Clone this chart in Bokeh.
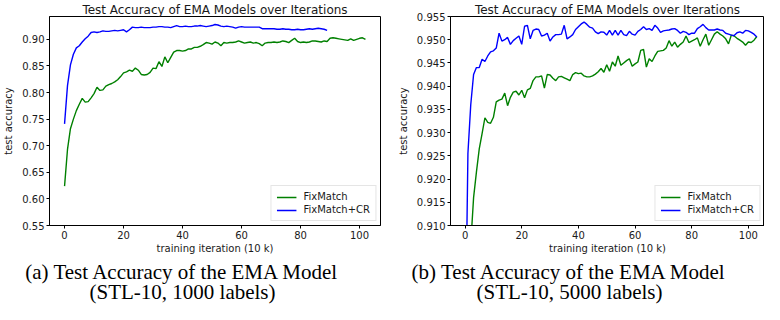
from bokeh.plotting import figure
from bokeh.layouts import row, column
from bokeh.models import Range1d, FixedTicker, NumeralTickFormatter, Label
from bokeh.embed import file_html
from bokeh.resources import INLINE

# ---------------- data ----------------
chart_title = "Test Accuracy of EMA Models over Iterations"
x_label = "training iteration (10 k)"
y_label = "test accuracy"
series_names = ["FixMatch", "FixMatch+CR"]
x_ticks = [0, 20, 40, 60, 80, 100]

# (a) STL-10, 1000 labels
a_fm_x = list(range(0, 103))
a_fm_y = [0.624, 0.693, 0.732, 0.750, 0.766, 0.778, 0.789, 0.782, 0.783, 0.790,
          0.798, 0.810, 0.804, 0.805, 0.812, 0.815, 0.817, 0.820, 0.824, 0.830,
          0.837, 0.839, 0.842, 0.840, 0.846, 0.842, 0.834, 0.833, 0.834, 0.838,
          0.846, 0.845, 0.858, 0.849, 0.867, 0.856, 0.866, 0.876, 0.879, 0.879,
          0.878, 0.879, 0.882, 0.882, 0.885, 0.885, 0.887, 0.890, 0.894, 0.893,
          0.891, 0.895, 0.893, 0.888, 0.894, 0.893, 0.894, 0.894, 0.895, 0.897,
          0.895, 0.893, 0.894, 0.895, 0.893, 0.894, 0.892, 0.888, 0.893, 0.894,
          0.894, 0.895, 0.894, 0.895, 0.897, 0.896, 0.894, 0.898, 0.902, 0.896,
          0.894, 0.895, 0.894, 0.895, 0.897, 0.897, 0.896, 0.895, 0.897, 0.896,
          0.902, 0.903, 0.902, 0.901, 0.900, 0.899, 0.898, 0.901, 0.898, 0.900,
          0.902, 0.903, 0.900]
a_cr_x = list(range(0, 90))
a_cr_y = [0.741, 0.813, 0.852, 0.872, 0.884, 0.888, 0.895, 0.901, 0.906, 0.913,
          0.914, 0.913, 0.914, 0.916, 0.915, 0.915, 0.916, 0.917, 0.916, 0.917,
          0.918, 0.914, 0.918, 0.923, 0.922, 0.922, 0.923, 0.922, 0.922, 0.922,
          0.923, 0.923, 0.924, 0.924, 0.923, 0.923, 0.922, 0.924, 0.926, 0.924,
          0.924, 0.925, 0.924, 0.924, 0.925, 0.925, 0.926, 0.925, 0.924, 0.925,
          0.926, 0.928, 0.927, 0.925, 0.924, 0.925, 0.924, 0.923, 0.921, 0.923,
          0.924, 0.923, 0.923, 0.923, 0.923, 0.923, 0.923, 0.920, 0.920, 0.920,
          0.920, 0.920, 0.919, 0.919, 0.920, 0.919, 0.919, 0.918, 0.918, 0.919,
          0.918, 0.918, 0.919, 0.920, 0.919, 0.920, 0.921, 0.920, 0.919, 0.917]
a_y_ticks = [0.55, 0.60, 0.65, 0.70, 0.75, 0.80, 0.85, 0.90]

# (b) STL-10, 5000 labels
b_fm_x = list(range(0, 104))
b_fm_y = [0.870, 0.890, 0.906, 0.9160, 0.9215, 0.9265, 0.9298, 0.9332, 0.9322, 0.9320,
          0.9333, 0.9366, 0.9370, 0.9372, 0.9385, 0.9358, 0.9376, 0.9387, 0.9389, 0.9381,
          0.9391, 0.9375, 0.9392, 0.9395, 0.9412, 0.9420, 0.9420, 0.9422, 0.9396, 0.9425,
          0.9424, 0.9417, 0.9412, 0.9420, 0.9421, 0.9418, 0.9415, 0.9412, 0.9425, 0.9429,
          0.9427, 0.9428, 0.9422, 0.9420, 0.9420, 0.9422, 0.9426, 0.9431, 0.9438, 0.9430,
          0.9446, 0.9432, 0.9452, 0.9443, 0.9465, 0.9445, 0.9450, 0.9455, 0.9459, 0.9443,
          0.9448, 0.9452, 0.9477, 0.9479, 0.9441, 0.9459, 0.9453, 0.9465, 0.9475, 0.9476,
          0.9477, 0.9482, 0.9498, 0.9486, 0.9495, 0.9484, 0.9490, 0.9495, 0.9508, 0.9494,
          0.9497, 0.9500, 0.9504, 0.9486, 0.9500, 0.9512, 0.9488, 0.9500, 0.9512, 0.9517,
          0.9512, 0.9508, 0.9502, 0.9491, 0.9510, 0.9508, 0.9503, 0.9499, 0.9495, 0.9488,
          0.9495, 0.9494, 0.9499, 0.9507]
b_cr_x = list(range(0, 104))
b_cr_y = [0.880, 0.9255, 0.9360, 0.9425, 0.9440, 0.9440, 0.9458, 0.9453, 0.9465, 0.9474,
          0.9476, 0.9482, 0.9514, 0.9497, 0.9500, 0.9505, 0.9490, 0.9498, 0.9503, 0.9508,
          0.9490, 0.9529, 0.9531, 0.9502, 0.9520, 0.9523, 0.9522, 0.9508, 0.9510, 0.9514,
          0.9497, 0.9506, 0.9511, 0.9511, 0.9512, 0.9531, 0.9502, 0.9506, 0.9511, 0.9522,
          0.9528, 0.9534, 0.9538, 0.9533, 0.9527, 0.9525, 0.9517, 0.9513, 0.9517, 0.9516,
          0.9510, 0.9520, 0.9510, 0.9520, 0.9510, 0.9520, 0.9511, 0.9509, 0.9518, 0.9512,
          0.9510, 0.9518, 0.9522, 0.9528, 0.9522, 0.9524, 0.9520, 0.9531, 0.9525, 0.9516,
          0.9519, 0.9520, 0.9521, 0.9523, 0.9524, 0.9520, 0.9514, 0.9518, 0.9516, 0.9511,
          0.9514, 0.9514, 0.9524, 0.9528, 0.9533, 0.9526, 0.9521, 0.9521, 0.9521, 0.9523,
          0.9521, 0.9520, 0.9514, 0.9512, 0.9510, 0.9509, 0.9515, 0.9517, 0.9514, 0.9520,
          0.9519, 0.9516, 0.9512, 0.9506]
b_y_ticks = [0.910, 0.915, 0.920, 0.925, 0.930, 0.935, 0.940, 0.945, 0.950, 0.955]

captions_a = ["(a) Test Accuracy of the EMA Model", "(STL-10, 1000 labels)"]
captions_b = ["(b) Test Accuracy of the EMA Model", "(STL-10, 5000 labels)"]

GREEN = "#008000"
BLUE = "#0000ff"
TXT = "#1a1a1a"
SANS = "DejaVu Sans"


def make(width, ml, mr, xr, yr, yticks, fmt, fm, cr):
    p = figure(width=width, height=256, output_backend="svg", toolbar_location=None,
               x_range=Range1d(*xr), y_range=Range1d(*yr),
               min_border_left=ml, min_border_right=mr, min_border_top=0, min_border_bottom=0,
               title=chart_title)
    p.title.text_font = SANS
    p.title.text_font_size = "12px"
    p.title.text_font_style = "normal"
    p.title.text_color = TXT
    p.title.align = "center"
    p.title.standoff = 0
    p.grid.visible = False
    p.outline_line_color = "black"
    p.outline_line_width = 1
    p.outline_line_alpha = 1

    for ax in (p.xaxis[0], p.yaxis[0]):
        ax.axis_line_color = "black"
        ax.major_tick_line_color = "black"
        ax.major_tick_out = 3
        ax.major_tick_in = 0
        ax.minor_tick_out = 0
        ax.minor_tick_in = 0
        ax.major_label_text_font = SANS
        ax.major_label_text_font_size = "10px"
        ax.major_label_text_color = TXT
        ax.axis_label_text_font = SANS
        ax.axis_label_text_font_size = "10px"
        ax.axis_label_text_font_style = "normal"
        ax.axis_label_text_color = TXT
        ax.major_label_standoff = 2
        ax.axis_label_standoff = 1
    p.yaxis[0].axis_label_standoff = 5
    p.xaxis[0].ticker = FixedTicker(ticks=x_ticks)
    p.yaxis[0].ticker = FixedTicker(ticks=yticks)
    p.yaxis[0].formatter = NumeralTickFormatter(format=fmt)
    p.xaxis[0].axis_label = x_label
    p.yaxis[0].axis_label = y_label

    p.line(fm[0], fm[1], line_color=GREEN, line_width=1.4, legend_label=series_names[0])
    p.line(cr[0], cr[1], line_color=BLUE, line_width=1.4, legend_label=series_names[1])

    lg = p.legend[0]
    lg.location = "bottom_right"
    lg.border_line_color = "#cccccc"
    lg.border_line_width = 1
    lg.background_fill_alpha = 0.8
    lg.label_text_font = SANS
    lg.label_text_font_size = "10px"
    lg.label_text_color = TXT
    lg.glyph_width = 20
    lg.glyph_height = 10
    lg.label_height = 10
    lg.label_standoff = 7
    lg.spacing = 2
    lg.padding = 5
    lg.margin = 4
    return p


pa = make(382, 45, 2, (-5.1, 107.1), (0.55, 0.943), a_y_ticks, "0.00",
          (a_fm_x, a_fm_y), (a_cr_x, a_cr_y))
pb = make(382, 68, 0, (-5.15, 105.7), (0.910, 0.955), b_y_ticks, "0.000",
          (b_fm_x, b_fm_y), (b_cr_x, b_cr_y))

# caption strip below the two charts
cap = figure(width=764, height=48, output_backend="svg", toolbar_location=None,
             x_range=Range1d(0, 764), y_range=Range1d(0, 48),
             x_axis_location=None, y_axis_location=None, min_border=0)
cap.grid.visible = False
cap.outline_line_color = None
for caps, cx in ((captions_a, 182), (captions_b, 569)):
    for c, ypos in zip(caps, (33, 13)):
        cap.add_layout(Label(x=cx, y=ypos, x_units="screen", y_units="screen",
                             text=c, text_align="center", text_baseline="alphabetic",
                             text_font="Liberation Serif", text_font_size="21px",
                             text_color="black"))

layout = column(row(pa, pb, spacing=0), cap, spacing=0)
open("out.html", "w").write(file_html(layout, INLINE))
